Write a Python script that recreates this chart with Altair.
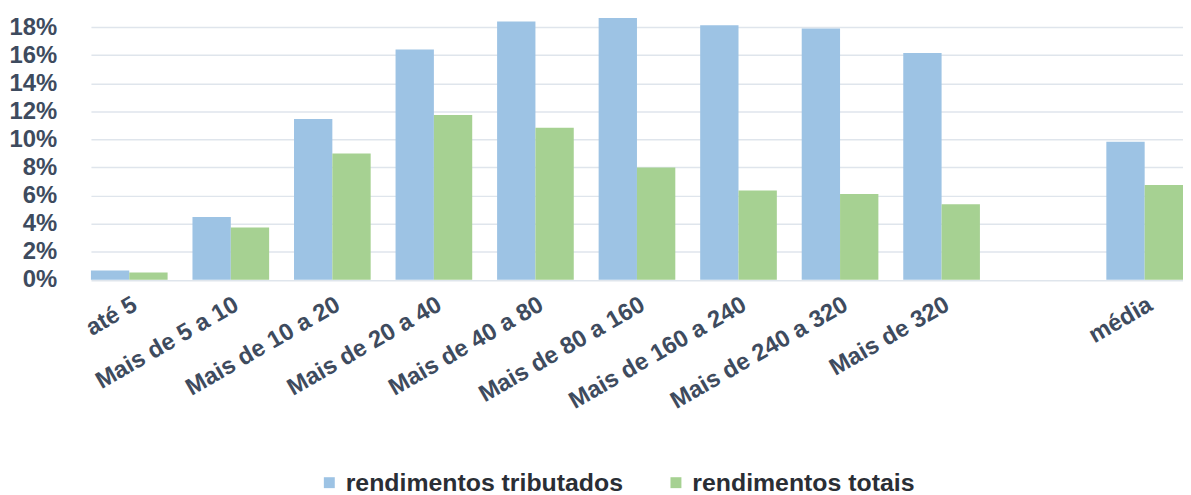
import altair as alt
import pandas as pd

categories = ["até 5", "Mais de 5 a 10", "Mais de 10 a 20", "Mais de 20 a 40",
              "Mais de 40 a 80", "Mais de 80 a 160", "Mais de 160 a 240",
              "Mais de 240 a 320", "Mais de 320", "média"]
axis_domain = categories[:9] + [" "] + ["média"]
series = ["rendimentos tributados", "rendimentos totais"]
tributados = [0.0066, 0.0448, 0.1146, 0.1640, 0.1840, 0.1866, 0.1814, 0.1790, 0.1616, 0.0984]
totais = [0.0052, 0.0373, 0.0899, 0.1175, 0.1083, 0.0800, 0.0637, 0.0611, 0.0538, 0.0675]
y_ticks = [0, 0.02, 0.04, 0.06, 0.08, 0.10, 0.12, 0.14, 0.16, 0.18]
colors = ["#9dc3e4", "#a6d192"]

rows = []
for c, a, b in zip(categories, tributados, totais):
    rows.append({"cat": c, "serie": series[0], "valor": a})
    rows.append({"cat": c, "serie": series[1], "valor": b})
df = pd.DataFrame(rows)

text_color = "#3e4b5e"

chart = alt.Chart(df).mark_bar().encode(
    x=alt.X("cat:N", title=None, sort=axis_domain,
            scale=alt.Scale(domain=axis_domain, range=[11.5, 1111], paddingInner=0.245, paddingOuter=0),
            axis=alt.Axis(labelAngle=-30, labelAlign="right", labelBaseline="middle",
                          labelPadding=23, labelOffset=6, labelFont="Liberation Sans",
                          labelFontWeight="bold", labelFontSize=24, labelColor=text_color,
                          ticks=False, domain=False, labelOverlap=False, labelLimit=400)),
    xOffset=alt.XOffset("serie:N", sort=series, scale=alt.Scale(domain=series, paddingInner=0, paddingOuter=0)),
    y=alt.Y("valor:Q", title=None,
            scale=alt.Scale(domain=[0, 0.19], nice=False, zero=True),
            axis=alt.Axis(values=y_ticks, format=".0%", labelFont="Liberation Sans",
                          labelFontWeight="bold", labelFontSize=24, labelColor=text_color,
                          labelPadding=23, ticks=False, domain=False,
                          gridColor="#dfe5ec", gridWidth=1.5)),
    color=alt.Color("serie:N", sort=series,
                    scale=alt.Scale(domain=series, range=colors),
                    legend=alt.Legend(title=None, orient="none", direction="horizontal",
                                      legendX=239, legendY=460,
                                      symbolType="square", symbolSize=121, symbolStrokeWidth=0,
                                      labelFont="Liberation Sans", labelFontWeight="bold",
                                      labelFontSize=25, labelColor="#2a2e35",
                                      labelOffset=4, columnPadding=40, labelLimit=400)),
).properties(
    width=1111,
    height=268.5,
    autosize=alt.AutoSizeParams(type="none"),
    padding={"left": 72, "top": 3.5, "right": 0, "bottom": 215},
).configure_view(stroke=None)

chart.save("out.html", embed_options={"renderer": "svg", "actions": False})
